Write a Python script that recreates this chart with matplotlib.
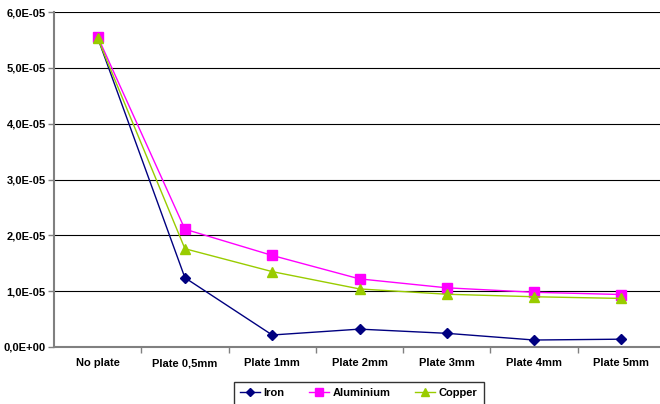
import numpy as np
import matplotlib.pyplot as plt
from matplotlib.ticker import FuncFormatter, FixedLocator

plt.rcParams['font.family'] = ['Liberation Sans', 'DejaVu Sans']

categories = ['No plate', 'Plate 0,5mm', 'Plate 1mm', 'Plate 2mm',
              'Plate 3mm', 'Plate 4mm', 'Plate 5mm']
iron = [5.54e-05, 1.24e-05, 0.215e-05, 0.32e-05, 0.245e-05, 0.125e-05, 0.14e-05]
aluminium = [5.56e-05, 2.11e-05, 1.64e-05, 1.22e-05, 1.06e-05, 0.98e-05, 0.94e-05]
copper = [5.53e-05, 1.76e-05, 1.35e-05, 1.04e-05, 0.945e-05, 0.90e-05, 0.87e-05]

fig = plt.figure(figsize=(6.6, 4.04), dpi=100)
ax = fig.add_axes([54 / 660, 57 / 404, 611 / 660, 335 / 404])

x = np.arange(len(categories))
ax.plot(x, iron, color='#000080', marker='D', markersize=5.5, linewidth=1, label='Iron')
ax.plot(x, aluminium, color='#FF00FF', marker='s', markersize=7, linewidth=1, label='Aluminium')
ax.plot(x, copper, color='#99CC00', marker='^', markersize=7, linewidth=1, label='Copper')

ax.set_xlim(-0.5, len(categories) - 0.5)
ax.set_ylim(0, 6e-05)
ax.set_yticks(np.arange(0, 6.01e-05, 1e-05))
ax.yaxis.set_major_formatter(FuncFormatter(lambda v, p: ('%.1E' % v).replace('.', ',')))
ax.grid(axis='y', color='black', linewidth=0.8)
ax.set_axisbelow(True)

ax.set_xticks(x)
ax.set_xticklabels(categories)
ax.xaxis.set_minor_locator(FixedLocator(np.arange(0.5, len(categories) - 0.5, 1)))
ax.tick_params(axis='x', which='major', length=0, pad=8)
ax.tick_params(axis='x', which='minor', length=4, width=1, color='#808080')
ax.tick_params(axis='y', length=4, width=1, color='#808080', pad=2)
for lab in ax.get_xticklabels() + ax.get_yticklabels():
    lab.set_fontsize(8)
    lab.set_fontweight('bold')

for s in ['top', 'right']:
    ax.spines[s].set_visible(False)
for s in ['left', 'bottom']:
    ax.spines[s].set_color('#808080')
    ax.spines[s].set_linewidth(1.5)

leg = fig.legend(loc='upper left', bbox_to_anchor=(228 / 660, 28 / 404), ncol=3,
                 frameon=True, fancybox=False, edgecolor='black',
                 prop={'size': 8, 'weight': 'bold'}, handlelength=1.8,
                 handletextpad=0.3, markerscale=0.8,
                 columnspacing=2.2, borderpad=0.6)
leg.get_frame().set_linewidth(1)

plt.savefig('out.png', dpi=100)
